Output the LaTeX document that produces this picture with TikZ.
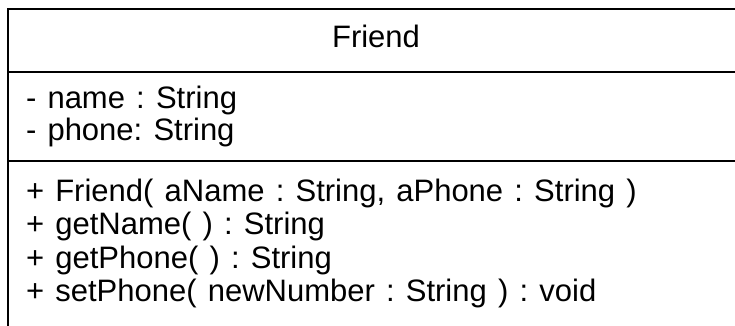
\documentclass[tikz,border=0pt]{standalone}
\usepackage{fontspec}
\setmainfont{Liberation Sans}[WordSpace=1.3]
\frenchspacing
\tikzset{
  umltext/.style={inner sep=0pt, outer sep=0pt, font=\fontsize{31}{31}\selectfont},
  memb/.style={umltext, anchor=base west},
  frame/.style={line width=1.6pt, black}
}
\begin{document}
\frenchspacing
\begin{tikzpicture}[x=1pt,y=1pt]
\useasboundingbox (0,0) rectangle (735,-326);
% class box
\draw[frame] (8,-340) -- (8,-9) -- (745,-9);
\draw[frame] (8,-72) -- (745,-72);
\draw[frame] (8,-161) -- (745,-161);
% title
\node[umltext, anchor=base] (title) at (376,-48) {Friend};
% attributes (clipped to compartment)
\begin{scope}
\clip (9,-73) rectangle (745,-146);
\node[memb] (attrname) at (26,-108.5) {- name : String};
\node[memb] (attrphone) at (26,-140) {- phone: String};
\end{scope}
% operations
\node[memb] (opctor) at (26,-201) {+ Friend( aName : String, aPhone : String )};
\node[memb] (opgetname) at (26,-234.5) {+ getName( ) : String};
\node[memb] (opgetphone) at (26,-268) {+ getPhone( ) : String};
\node[memb] (opsetphone) at (26,-301.5) {+ setPhone( newNumber : String ) : void};
\end{tikzpicture}
\end{document}
